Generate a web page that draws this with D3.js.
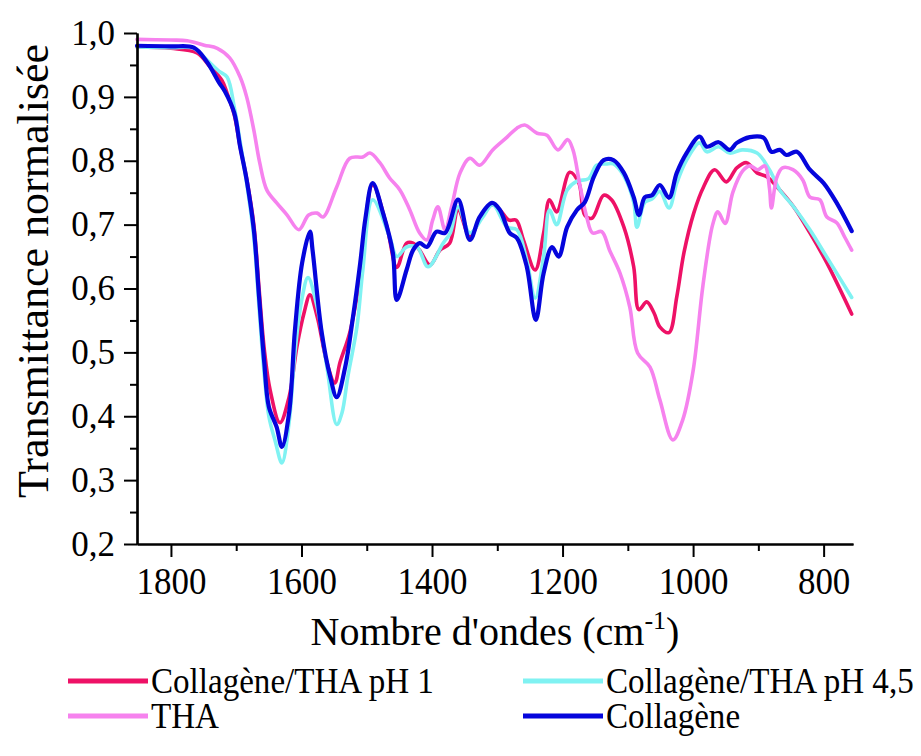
<!DOCTYPE html>
<html>
<head>
<meta charset="utf-8">
<script src="https://cdn.jsdelivr.net/npm/d3@7"></script>
<style>
  body { margin: 0; background: #fff; }
  svg { font-family: "Liberation Serif", "Times New Roman", serif; }
</style>
</head>
<body>
<svg id="chart" width="921" height="756"></svg>
<script>
// FTIR spectra, values: [wavenumber cm-1, normalised transmittance]
const seriesNames = ["Collagène/THA pH 1", "Collagène/THA pH 4,5", "THA", "Collagène"];
const seriesColors = ["#ee1166", "#80f2f2", "#f682ee", "#0505dc"];
const seriesWidths = [3.6, 3.6, 3.6, 4.2];

const collagenePH1 = [
  [1852,0.978],[1800,0.976],[1760,0.969],[1740,0.947],[1722,0.926],[1714,0.906],[1703,0.872],
  [1694,0.822],[1684,0.772],[1673,0.700],[1665,0.600],[1657,0.505],[1648,0.441],[1633,0.390],
  [1619,0.430],[1607,0.509],[1596,0.562],[1587,0.590],[1576,0.556],[1561,0.484],[1549,0.452],
  [1541,0.484],[1526,0.531],[1510,0.618],[1491,0.762],[1469,0.696],[1454,0.633],[1439,0.671],
  [1429,0.671],[1419,0.660],[1403,0.637],[1388,0.660],[1373,0.671],[1360,0.723],[1342,0.681],
  [1327,0.707],[1308,0.731],[1296,0.723],[1282,0.707],[1271,0.707],[1260,0.676],[1242,0.629],
  [1229,0.687],[1220,0.739],[1209,0.720],[1189,0.782],[1175,0.765],[1166,0.715],[1155,0.710],
  [1137,0.746],[1125,0.739],[1106,0.696],[1091,0.634],[1083,0.567],[1071,0.579],[1060,0.562],
  [1051,0.540],[1037,0.531],[1025,0.587],[1014,0.656],[999,0.718],[984,0.759],[967,0.786],
  [949,0.767],[933,0.789],[918,0.797],[902,0.781],[887,0.775],[867,0.754],[846,0.728],
  [821,0.687],[795,0.640],[757,0.560]
];

const collagenePH45 = [
  [1852,0.978],[1800,0.977],[1765,0.976],[1745,0.958],[1726,0.940],[1714,0.931],[1703,0.884],
  [1694,0.830],[1684,0.765],[1673,0.680],[1665,0.570],[1657,0.465],[1650,0.400],[1640,0.360],
  [1630,0.327],[1619,0.390],[1610,0.500],[1600,0.580],[1590,0.617],[1576,0.571],[1561,0.477],
  [1546,0.387],[1538,0.405],[1529,0.462],[1515,0.540],[1506,0.629],[1491,0.739],[1465,0.681],
  [1454,0.650],[1439,0.665],[1423,0.665],[1406,0.634],[1383,0.671],[1372,0.687],[1360,0.728],
  [1342,0.687],[1322,0.712],[1307,0.731],[1285,0.696],[1270,0.692],[1255,0.645],[1242,0.585],
  [1229,0.650],[1220,0.723],[1209,0.700],[1193,0.754],[1178,0.768],[1160,0.772],[1148,0.793],
  [1133,0.795],[1122,0.795],[1106,0.776],[1091,0.735],[1086,0.696],[1074,0.735],[1063,0.740],
  [1051,0.752],[1037,0.726],[1025,0.765],[1010,0.801],[990,0.828],[979,0.814],[961,0.822],
  [944,0.812],[925,0.817],[902,0.812],[883,0.786],[867,0.754],[846,0.728],[821,0.692],
  [795,0.649],[757,0.586]
];

const tha = [
  [1852,0.990],[1800,0.989],[1775,0.988],[1749,0.981],[1729,0.976],[1710,0.961],[1694,0.931],
  [1684,0.900],[1673,0.848],[1664,0.797],[1653,0.754],[1638,0.734],[1622,0.715],[1604,0.692],
  [1589,0.715],[1576,0.718],[1567,0.712],[1546,0.759],[1526,0.804],[1506,0.806],[1495,0.812],
  [1480,0.797],[1465,0.773],[1449,0.754],[1434,0.723],[1419,0.687],[1408,0.676],[1399,0.707],
  [1391,0.728],[1380,0.692],[1370,0.728],[1357,0.781],[1342,0.804],[1327,0.793],[1307,0.817],
  [1285,0.837],[1270,0.851],[1258,0.856],[1239,0.843],[1224,0.840],[1207,0.817],[1192,0.833],
  [1184,0.817],[1174,0.765],[1163,0.712],[1154,0.687],[1140,0.689],[1128,0.660],[1112,0.624],
  [1097,0.571],[1085,0.499],[1066,0.477],[1051,0.426],[1031,0.363],[1016,0.394],[1000,0.471],
  [985,0.604],[970,0.700],[962,0.720],[951,0.702],[939,0.751],[924,0.784],[913,0.792],
  [901,0.786],[890,0.792],[883,0.757],[880,0.726],[872,0.773],[863,0.789],[847,0.786],
  [832,0.770],[821,0.743],[806,0.739],[795,0.712],[780,0.703],[768,0.681],[757,0.660]
];

const collagene = [
  [1852,0.980],[1800,0.979],[1765,0.977],[1745,0.955],[1726,0.922],[1717,0.908],[1703,0.875],
  [1694,0.822],[1684,0.770],[1673,0.692],[1665,0.587],[1657,0.484],[1650,0.415],[1638,0.383],
  [1630,0.352],[1619,0.405],[1610,0.535],[1599,0.640],[1587,0.689],[1583,0.660],[1569,0.531],
  [1556,0.462],[1546,0.430],[1533,0.477],[1521,0.556],[1510,0.640],[1502,0.710],[1491,0.765],
  [1475,0.718],[1460,0.656],[1454,0.582],[1439,0.629],[1429,0.660],[1419,0.671],[1408,0.665],
  [1393,0.689],[1380,0.687],[1360,0.739],[1342,0.676],[1327,0.712],[1308,0.734],[1296,0.723],
  [1281,0.687],[1270,0.679],[1255,0.635],[1241,0.551],[1229,0.624],[1216,0.665],[1206,0.650],
  [1193,0.696],[1178,0.723],[1166,0.735],[1152,0.775],[1137,0.801],[1122,0.801],[1106,0.781],
  [1091,0.743],[1083,0.715],[1074,0.743],[1063,0.746],[1051,0.762],[1037,0.742],[1025,0.781],
  [1010,0.812],[990,0.838],[979,0.822],[961,0.829],[944,0.817],[933,0.828],[913,0.837],
  [892,0.836],[880,0.814],[867,0.817],[857,0.809],[841,0.814],[821,0.786],[800,0.765],
  [780,0.734],[757,0.690]
];

const xMajorTicks = [1800, 1600, 1400, 1200, 1000, 800];
const xMinorTicks = [1700, 1500, 1300, 1100, 900];
const yMajorTicks = [0.2, 0.3, 0.4, 0.5, 0.6, 0.7, 0.8, 0.9, 1.0];
const yMinorTicks = [0.25, 0.35, 0.45, 0.55, 0.65, 0.75, 0.85, 0.95];

const allSeries = [collagenePH1, collagenePH45, tha, collagene];

const svg = d3.select("#chart");
const x = d3.scaleLinear().domain([1852, 755]).range([137, 853]);
const y = d3.scaleLinear().domain([0.2, 1.0]).range([544, 33]);
const fmt = (d) => d3.format(".1f")(d).replace(".", ",");

// --- curves (blue drawn last, on top) ---
const line = d3.line().x((d) => x(d[0])).y((d) => y(d[1])).curve(d3.curveCatmullRom.alpha(0.5));
allSeries.forEach((s, i) => {
  svg.append("path").datum(s)
    .attr("d", line).attr("fill", "none")
    .attr("stroke", seriesColors[i]).attr("stroke-width", seriesWidths[i])
    .attr("stroke-linejoin", "round").attr("stroke-linecap", "round");
});

// --- axes ---
function styleAxis(g) {
  g.attr("font-family", null);
  g.selectAll("path,line").attr("stroke", "#000").attr("stroke-width", 2);
}
svg.append("g").attr("transform", "translate(0,544)")
  .call(d3.axisBottom(x).tickValues(xMinorTicks).tickSize(7).tickSizeOuter(0).tickFormat(""))
  .call(styleAxis);
const xAx = svg.append("g").attr("transform", "translate(0,544)")
  .call(d3.axisBottom(x).tickValues(xMajorTicks).tickSize(13).tickSizeOuter(0).tickPadding(10).tickFormat(d3.format("d")))
  .call(styleAxis);
xAx.selectAll("text").attr("font-size", 38).attr("transform", "scale(0.92,1)");

svg.append("g").attr("transform", "translate(137,0)")
  .call(d3.axisLeft(y).tickValues(yMinorTicks).tickSize(7).tickSizeOuter(0).tickFormat(""))
  .call(styleAxis);
const yAx = svg.append("g").attr("transform", "translate(137,0)")
  .call(d3.axisLeft(y).tickValues(yMajorTicks).tickSize(13).tickSizeOuter(0).tickPadding(9).tickFormat(fmt))
  .call(styleAxis);
yAx.selectAll("text").attr("font-size", 35);
svg.selectAll(".domain").attr("stroke-width", 2.2);

// --- axis titles ---
const xt = svg.append("text").attr("x", 495).attr("y", 645)
  .attr("text-anchor", "middle").attr("font-size", 40);
xt.append("tspan").text("Nombre d'ondes (cm");
xt.append("tspan").attr("font-size", 26).attr("dy", -16).text("-1");
xt.append("tspan").attr("dy", 16).text(")");

svg.append("text").attr("transform", "translate(48,271) rotate(-90)")
  .attr("text-anchor", "middle").attr("font-size", 44)
  .text("Transmittance normalisée");

// --- legend (2 columns, row-major) ---
const legX = [68, 523], legY = [681, 716];
seriesNames.forEach((name, i) => {
  const lx = legX[i % 2], ly = legY[Math.floor(i / 2)];
  svg.append("line").attr("x1", lx).attr("x2", lx + 80).attr("y1", ly).attr("y2", ly)
    .attr("stroke", seriesColors[i]).attr("stroke-width", 5);
  svg.append("text").attr("transform", `translate(${lx + 83},${ly + 12}) scale(0.945,1)`)
    .attr("font-size", 35).text(name);
});
</script>
</body>
</html>
